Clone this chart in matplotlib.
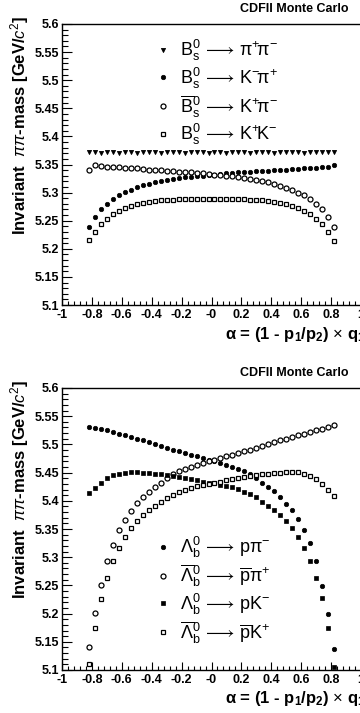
import matplotlib
matplotlib.use("Agg")
import matplotlib.pyplot as plt
from matplotlib.ticker import FixedLocator, MultipleLocator, FixedFormatter

plt.rcParams['font.family'] = ['Liberation Sans', 'DejaVu Sans']
plt.rcParams['mathtext.fontset'] = 'custom'
plt.rcParams['mathtext.rm'] = 'Liberation Sans'
plt.rcParams['mathtext.it'] = 'Liberation Sans:italic'
plt.rcParams['mathtext.bf'] = 'Liberation Sans:bold'

# ---------------- data ----------------
alpha = [-0.82, -0.78, -0.74, -0.70, -0.66, -0.62, -0.58, -0.54, -0.50, -0.46, -0.42,
         -0.38, -0.34, -0.30, -0.26, -0.22, -0.18, -0.14, -0.10, -0.06, -0.02,
         0.02, 0.06, 0.10, 0.14, 0.18, 0.22, 0.26, 0.30, 0.34, 0.38,
         0.42, 0.46, 0.50, 0.54, 0.58, 0.62, 0.66, 0.70, 0.74, 0.78, 0.82]

# Top panel: B_s^0 decays
bs_pipi = [5.372, 5.372, 5.371, 5.372, 5.372, 5.371, 5.372, 5.372, 5.371, 5.372, 5.372,
           5.372, 5.371, 5.372, 5.372, 5.372, 5.371, 5.372, 5.372, 5.372, 5.371,
           5.372, 5.372, 5.371, 5.372, 5.372, 5.372, 5.371, 5.372, 5.372, 5.372,
           5.371, 5.372, 5.372, 5.372, 5.372, 5.371, 5.372, 5.372, 5.372, 5.373, 5.373]
bs_kmpip = [5.238, 5.256, 5.270, 5.280, 5.289, 5.296, 5.301, 5.305, 5.310, 5.313, 5.316,
            5.318, 5.321, 5.323, 5.325, 5.326, 5.327, 5.328, 5.329, 5.330, 5.331,
            5.332, 5.333, 5.334, 5.335, 5.336, 5.336, 5.337, 5.338, 5.338, 5.339,
            5.340, 5.340, 5.341, 5.342, 5.342, 5.343, 5.343, 5.344, 5.345, 5.345, 5.349]
bsbar_kppim = [5.341, 5.350, 5.347, 5.346, 5.345, 5.345, 5.344, 5.343, 5.343, 5.342, 5.341,
               5.341, 5.340, 5.339, 5.338, 5.337, 5.337, 5.336, 5.335, 5.334, 5.333,
               5.332, 5.331, 5.330, 5.329, 5.327, 5.326, 5.324, 5.322, 5.320, 5.318,
               5.315, 5.312, 5.309, 5.305, 5.300, 5.295, 5.288, 5.280, 5.270, 5.256, 5.239]
bs_kk = [5.216, 5.230, 5.244, 5.253, 5.262, 5.268, 5.273, 5.277, 5.280, 5.282, 5.284,
         5.285, 5.286, 5.287, 5.287, 5.288, 5.288, 5.288, 5.288, 5.288, 5.288,
         5.288, 5.288, 5.288, 5.288, 5.288, 5.288, 5.287, 5.287, 5.286, 5.285,
         5.284, 5.282, 5.280, 5.277, 5.273, 5.268, 5.262, 5.253, 5.244, 5.230, 5.213]

# Bottom panel: Lambda_b^0 decays
lb_ppim = [5.531, 5.529, 5.527, 5.525, 5.522, 5.518, 5.516, 5.513, 5.509, 5.507, 5.504,
           5.500, 5.497, 5.494, 5.490, 5.488, 5.484, 5.481, 5.479, 5.476, 5.473,
           5.470, 5.467, 5.464, 5.460, 5.456, 5.452, 5.447, 5.440, 5.432, 5.425,
           5.417, 5.407, 5.395, 5.384, 5.367, 5.348, 5.326, 5.294, 5.249, 5.200, 5.138]
lbbar_pbarpip = [5.141, 5.201, 5.251, 5.294, 5.321, 5.348, 5.366, 5.382, 5.396, 5.406, 5.416,
                 5.425, 5.432, 5.440, 5.447, 5.452, 5.456, 5.460, 5.464, 5.467, 5.470,
                 5.473, 5.476, 5.479, 5.481, 5.484, 5.488, 5.490, 5.494, 5.497, 5.500,
                 5.504, 5.507, 5.509, 5.513, 5.516, 5.518, 5.522, 5.525, 5.527, 5.531, 5.535]
lb_pkm = [5.413, 5.422, 5.432, 5.440, 5.445, 5.448, 5.450, 5.451, 5.451, 5.450, 5.449,
          5.448, 5.447, 5.446, 5.444, 5.442, 5.441, 5.439, 5.436, 5.434, 5.432,
          5.431, 5.428, 5.426, 5.424, 5.421, 5.416, 5.412, 5.406, 5.398, 5.391,
          5.383, 5.374, 5.365, 5.351, 5.336, 5.317, 5.294, 5.264, 5.227, 5.174, 5.105]
lbbar_pbarkp = [5.111, 5.174, 5.226, 5.264, 5.294, 5.317, 5.336, 5.352, 5.365, 5.374, 5.383,
                5.390, 5.397, 5.405, 5.411, 5.416, 5.420, 5.423, 5.426, 5.428, 5.430,
                5.432, 5.434, 5.436, 5.439, 5.441, 5.442, 5.444, 5.446, 5.447, 5.448,
                5.449, 5.450, 5.451, 5.451, 5.451, 5.448, 5.444, 5.438, 5.430, 5.420, 5.408]

x_tick_values = [-1, -0.8, -0.6, -0.4, -0.2, 0, 0.2, 0.4, 0.6, 0.8, 1]
x_tick_labels = ["-1", "-0.8", "-0.6", "-0.4", "-0.2", "-0", "0.2", "0.4", "0.6", "0.8", "1"]
y_tick_values = [5.1, 5.15, 5.2, 5.25, 5.3, 5.35, 5.4, 5.45, 5.5, 5.55, 5.6]
y_tick_labels = ["5.1", "5.15", "5.2", "5.25", "5.3", "5.35", "5.4", "5.45", "5.5", "5.55", "5.6"]

top_labels = [r"$\mathrm{B_s^0}\,\longrightarrow\,\mathrm{\pi^{+}\!\pi^{-}}$",
              r"$\mathrm{B_s^0}\,\longrightarrow\,\mathrm{K^{-}\!\pi^{+}}$",
              r"$\mathrm{\overline{B}_s^0}\,\longrightarrow\,\mathrm{K^{+}\!\pi^{-}}$",
              r"$\mathrm{B_s^0}\,\longrightarrow\,\mathrm{K^{+}\!K^{-}}$"]
bot_labels = [r"$\mathrm{\Lambda_b^0}\,\longrightarrow\,\mathrm{p\pi^{-}}$",
              r"$\mathrm{\overline{\Lambda}_b^0}\,\longrightarrow\,\mathrm{\overline{p}\pi^{+}}$",
              r"$\mathrm{\Lambda_b^0}\,\longrightarrow\,\mathrm{pK^{-}}$",
              r"$\mathrm{\overline{\Lambda}_b^0}\,\longrightarrow\,\mathrm{\overline{p}K^{+}}$"]

title_text = "CDFII Monte Carlo"
ylabel_text = r"Invariant  $\pi\pi$-mass [GeV/$c^2$]"
xlabel_text = r"$\mathbf{\alpha}$ = (1 - p$_\mathbf{1}$/p$_\mathbf{2}$) $\times$ q$_\mathbf{1}$"

# ---------------- figure ----------------
W, H = 360, 713
fig = plt.figure(figsize=(W / 100, H / 100), dpi=100)


def px_axes(left, right, top, bottom):
    return fig.add_axes([left / W, 1 - bottom / H, (right - left) / W, (bottom - top) / H])


ax1 = px_axes(62, 361, 24, 305)
ax2 = px_axes(62, 361, 388, 670)

styles = [
    dict(marker='v', ms=3.0, mfc='black', mec='black', mew=0.6),
    dict(marker='o', ms=3.2, mfc='black', mec='black', mew=0.5),
    dict(marker='o', ms=3.6, mfc='white', mec='black', mew=0.9),
    dict(marker='s', ms=3.4, mfc='white', mec='black', mew=0.9),
]
styles_b = [
    dict(marker='o', ms=3.2, mfc='black', mec='black', mew=0.5),
    dict(marker='o', ms=3.6, mfc='white', mec='black', mew=0.9),
    dict(marker='s', ms=3.2, mfc='black', mec='black', mew=0.5),
    dict(marker='s', ms=3.4, mfc='white', mec='black', mew=0.9),
]

for ys, st, lab in zip([bs_pipi, bs_kmpip, bsbar_kppim, bs_kk], styles, top_labels):
    ax1.plot(alpha, ys, linestyle='none', label=lab, **st)
for ys, st, lab in zip([lb_ppim, lbbar_pbarpip, lb_pkm, lbbar_pbarkp], styles_b, bot_labels):
    ax2.plot(alpha, ys, linestyle='none', label=lab, **st)

for ax, tpx in ((ax1, 24), (ax2, 388)):
    ax.set_xlim(-1, 1)
    ax.set_ylim(5.1, 5.6)
    ax.xaxis.set_major_locator(FixedLocator(x_tick_values))
    ax.xaxis.set_major_formatter(FixedFormatter(x_tick_labels))
    ax.xaxis.set_minor_locator(MultipleLocator(0.04))
    ax.yaxis.set_major_locator(FixedLocator(y_tick_values))
    ax.yaxis.set_major_formatter(FixedFormatter(y_tick_labels))
    ax.yaxis.set_minor_locator(MultipleLocator(0.01))
    ax.tick_params(axis='both', which='both', direction='in', top=False, right=False,
                   width=0.8, colors='black')
    ax.tick_params(axis='x', which='major', length=6, pad=3)
    ax.tick_params(axis='x', which='minor', length=3)
    ax.tick_params(axis='y', which='major', length=7, pad=2)
    ax.tick_params(axis='y', which='minor', length=4)
    for lbl in ax.get_xticklabels() + ax.get_yticklabels():
        lbl.set_fontsize(9)
        lbl.set_fontweight('bold')
    for sp in ax.spines.values():
        sp.set_linewidth(1.0)

    # title
    fig.text(348 / W, 1 - (tpx - 15) / H, title_text, ha='right', va='center',
             fontsize=9, fontweight='bold')
    # y label
    fig.text(20 / W, 1 - (tpx - 8) / H, ylabel_text, rotation=90, ha='center', va='top',
             fontsize=12, fontweight='bold')
    # x label
    fig.text(366 / W, 1 - (tpx + 311) / H, xlabel_text, ha='right', va='center',
             fontsize=12, fontweight='bold')

leg_kw = dict(frameon=False, fontsize=13, handlelength=1.0, handletextpad=0.45,
              borderpad=0.0, borderaxespad=0.0, labelspacing=0.14, markerscale=1.0,
              loc='upper left')
ax1.legend(bbox_to_anchor=((154 - 62) / 299, 1 - (38 - 24) / 281), **leg_kw)
ax2.legend(bbox_to_anchor=((154 - 62) / 299, 1 - (535 - 388) / 282), **leg_kw)

fig.savefig("out.png", dpi=100)
